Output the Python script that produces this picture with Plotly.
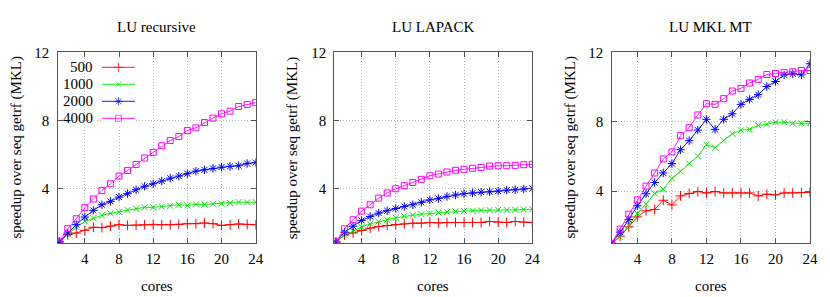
import plotly.graph_objects as go

cores = list(range(1, 25))
series_names = ["500", "1000", "2000", "4000"]
panel_titles = ["LU recursive", "LU LAPACK", "LU MKL MT"]
x_ticks = [4, 8, 12, 16, 20, 24]
y_ticks = [4, 8, 12]

# LU recursive
rec_500 = [0.88, 1.31, 1.40, 1.56, 1.74, 1.72, 1.81, 1.89, 1.85, 1.87, 1.89, 1.91,
           1.89, 1.89, 1.91, 1.95, 1.95, 1.99, 1.95, 1.85, 1.89, 1.93, 1.91, 1.89]
rec_1000 = [0.88, 1.33, 1.76, 2.09, 2.28, 2.44, 2.56, 2.65, 2.75, 2.83, 2.91, 2.91,
            2.95, 2.99, 3.06, 3.02, 3.08, 3.08, 3.12, 3.12, 3.16, 3.22, 3.20, 3.22]
rec_2000 = [0.88, 1.40, 1.89, 2.34, 2.73, 3.06, 3.26, 3.51, 3.71, 3.94, 4.14, 4.29,
            4.45, 4.62, 4.74, 4.88, 5.03, 5.11, 5.19, 5.27, 5.31, 5.35, 5.48, 5.54]
rec_4000 = [0.88, 1.66, 2.24, 2.89, 3.40, 3.90, 4.29, 4.74, 5.07, 5.42, 5.80, 6.13,
            6.52, 6.83, 7.06, 7.41, 7.57, 7.88, 8.14, 8.39, 8.55, 8.82, 8.94, 9.05]

# LU LAPACK
lap_500 = [0.88, 1.29, 1.41, 1.55, 1.69, 1.78, 1.84, 1.90, 1.94, 1.98, 1.98, 2.02,
           2.00, 2.02, 2.02, 2.02, 2.02, 2.02, 2.08, 2.04, 2.02, 2.08, 2.04, 2.02]
lap_1000 = [0.88, 1.29, 1.51, 1.75, 1.94, 2.08, 2.18, 2.29, 2.39, 2.45, 2.51, 2.55,
            2.61, 2.63, 2.67, 2.69, 2.71, 2.73, 2.75, 2.76, 2.76, 2.76, 2.78, 2.80]
lap_2000 = [0.88, 1.45, 1.80, 2.14, 2.37, 2.57, 2.71, 2.84, 2.96, 3.06, 3.20, 3.35,
            3.43, 3.55, 3.63, 3.71, 3.75, 3.80, 3.82, 3.86, 3.92, 3.94, 3.98, 4.02]
lap_4000 = [0.88, 1.65, 2.18, 2.69, 3.06, 3.45, 3.75, 4.00, 4.18, 4.37, 4.55, 4.76,
            4.86, 4.98, 5.08, 5.14, 5.20, 5.25, 5.33, 5.35, 5.35, 5.37, 5.41, 5.43]

# LU MKL MT
mt_500 = [1.00, 1.41, 1.95, 2.52, 2.87, 2.95, 3.48, 3.21, 3.73, 3.87, 3.98, 3.90,
          3.98, 3.90, 3.90, 3.90, 3.90, 3.73, 3.83, 3.79, 3.90, 3.90, 3.92, 3.94]
mt_1000 = [1.00, 1.38, 2.03, 2.72, 3.25, 3.87, 4.11, 4.73, 5.15, 5.59, 6.01, 6.68,
           6.51, 6.93, 7.31, 7.51, 7.56, 7.79, 7.85, 7.97, 7.97, 7.91, 7.91, 7.91]
mt_2000 = [1.00, 1.64, 2.37, 3.16, 3.85, 4.50, 5.05, 5.59, 6.39, 6.91, 7.52, 8.14,
           7.56, 8.14, 8.46, 9.00, 9.29, 9.56, 10.03, 10.32, 10.70, 10.76, 10.70, 11.34]
mt_4000 = [1.00, 1.82, 2.68, 3.50, 4.29, 5.05, 5.86, 6.26, 7.20, 7.66, 8.39, 9.04,
           9.00, 9.33, 9.77, 9.92, 10.23, 10.44, 10.72, 10.78, 10.84, 10.88, 10.95, 10.95]

panels = [
    [rec_500, rec_1000, rec_2000, rec_4000],
    [lap_500, lap_1000, lap_2000, lap_4000],
    [mt_500, mt_1000, mt_2000, mt_4000],
]

colors = ["#ff0000", "#00e600", "#0000ff", "#ff00ff"]
symbols = ["cross-thin-open", "x-thin-open", "asterisk-open", "square-open"]
msizes = [7, 6, 7, 6]

W, H = 830, 297
FONT = "Liberation Serif"


def px(v):
    return v / W


def py(v):
    return 1 - v / H


x_domains = [(57.5, 255.7), (334.3, 532.3), (611.5, 810.0)]
y_dom = [py(243.3), py(52.3)]
x_ranges = [[0.8, 24], [0.8, 24], [1, 24]]
y_ranges = [[0.8, 12], [0.8, 12], [1, 12]]

fig = go.Figure()

for p, data in enumerate(panels):
    sfx = "" if p == 0 else str(p + 1)
    for i, vals in enumerate(data):
        fig.add_trace(go.Scatter(
            x=cores, y=vals, mode="lines+markers",
            xaxis="x" + sfx, yaxis="y" + sfx,
            line=dict(color=colors[i], width=0.9),
            marker=dict(symbol=symbols[i], size=msizes[i], color=colors[i],
                        line=dict(color=colors[i], width=1)),
            showlegend=False, name=series_names[i],
        ))

axis_common = dict(
    showline=True, mirror="ticks", linecolor="#555555", linewidth=1.3,
    ticks="inside", ticklen=5, tickcolor="#555555", tickwidth=1,
    showgrid=True, gridcolor="#b8b8b8", griddash="1px,2px", gridwidth=1,
    zeroline=False, automargin=False,
    tickfont=dict(family=FONT, size=15, color="black"),
)

layout = {}
for p in range(3):
    sfx = "" if p == 0 else str(p + 1)
    x0, x1 = x_domains[p]
    layout["xaxis" + sfx] = dict(
        axis_common, domain=[px(x0), px(x1)], range=x_ranges[p],
        tickvals=x_ticks, anchor="y" + sfx, ticklabelstandoff=2,
    )
    layout["yaxis" + sfx] = dict(
        axis_common, domain=y_dom, range=y_ranges[p],
        tickvals=y_ticks, anchor="x" + sfx, ticklabelstandoff=4,
    )

# legend overlay axis (pixel-like coordinates)
leg_x = (102, 135)
leg_y = (60, 126)
layout["xaxis4"] = dict(domain=[px(leg_x[0]), px(leg_x[1])], range=[0, 1],
                        visible=False, anchor="y4", fixedrange=True, automargin=False)
layout["yaxis4"] = dict(domain=[py(leg_y[1]), py(leg_y[0])], range=[leg_y[1], leg_y[0]],
                        visible=False, anchor="x4", fixedrange=True, automargin=False)
row_y = [67.3, 84.3, 101.3, 118.3]
annotations = []
for i, name in enumerate(series_names):
    fig.add_trace(go.Scatter(
        x=[0, 0.5, 1], y=[row_y[i]] * 3, mode="lines+markers",
        xaxis="x4", yaxis="y4",
        line=dict(color=colors[i], width=0.9),
        marker=dict(symbol=symbols[i], size=[0, msizes[i], 0], color=colors[i],
                    line=dict(color=colors[i], width=1)),
        showlegend=False, hoverinfo="skip",
    ))
    annotations.append(dict(
        text=name, x=px(95), y=py(row_y[i]), xref="paper", yref="paper",
        xanchor="right", yanchor="middle", showarrow=False,
        font=dict(family=FONT, size=15, color="black"),
    ))

for p in range(3):
    x0, x1 = x_domains[p]
    cx = (x0 + x1) / 2
    annotations.append(dict(
        text=panel_titles[p], x=px(cx), y=py(27), xref="paper", yref="paper",
        xanchor="center", yanchor="middle", showarrow=False,
        font=dict(family=FONT, size=15, color="black"),
    ))
    annotations.append(dict(
        text="cores", x=px(cx), y=py(286), xref="paper", yref="paper",
        xanchor="center", yanchor="middle", showarrow=False,
        font=dict(family=FONT, size=15, color="black"),
    ))
    annotations.append(dict(
        text="speedup over seq getrf (MKL)", x=px(x0 - 42), y=py(148),
        xref="paper", yref="paper", textangle=-90,
        xanchor="center", yanchor="middle", showarrow=False,
        font=dict(family=FONT, size=15, color="black"),
    ))

fig.update_layout(
    width=W, height=H, margin=dict(l=0, r=0, t=0, b=0, pad=0),
    paper_bgcolor="white", plot_bgcolor="white",
    annotations=annotations, showlegend=False,
    **layout,
)

fig.write_html("out.html",
               config={"displayModeBar": False},
               post_script="document.body.style.margin='0px';"
                           "document.body.style.overflow='hidden';")
